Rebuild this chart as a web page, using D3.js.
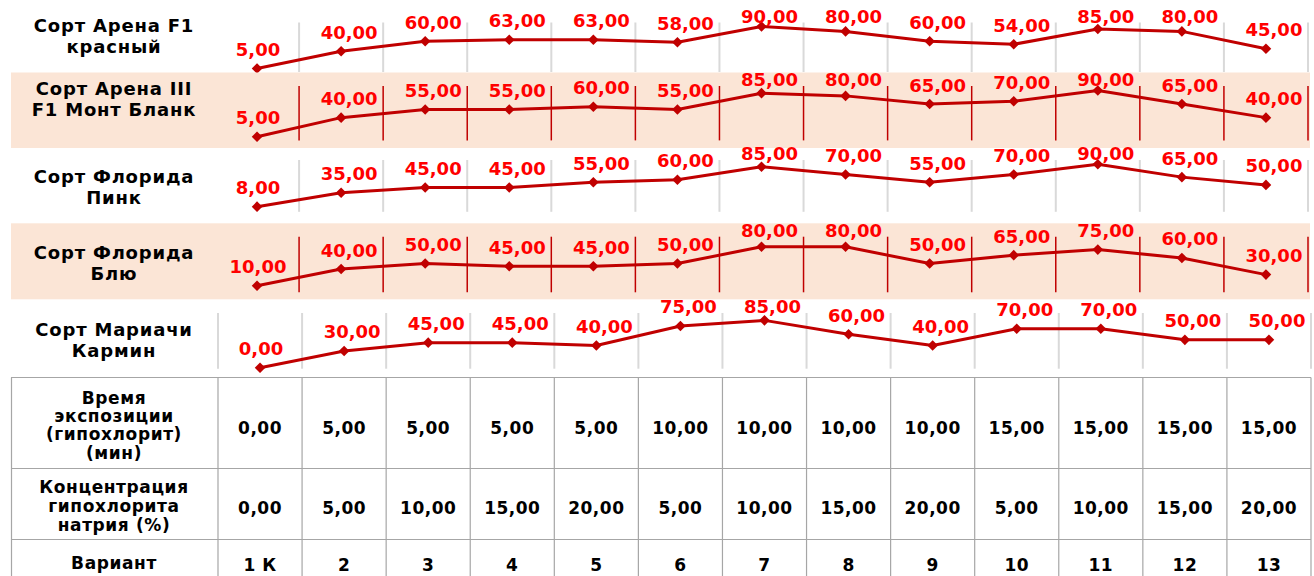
<!DOCTYPE html>
<html>
<head>
<meta charset="utf-8">
<script src="https://cdn.jsdelivr.net/npm/d3@7"></script>
<style>
  html, body { margin: 0; padding: 0; background: #ffffff; }
  svg { display: block; }
  text { font-family: "DejaVu Sans", Verdana, sans-serif; font-weight: bold; }
</style>
</head>
<body>
<svg id="chart" width="1314" height="576"></svg>
<script>
// ---------------- DATA ----------------
const variants = ["1 К", "2", "3", "4", "5", "6", "7", "8", "9", "10", "11", "12", "13"];
const exposureTime = [0, 5, 5, 5, 5, 10, 10, 10, 10, 15, 15, 15, 15];
const concentration = [0, 5, 10, 15, 20, 5, 10, 15, 20, 5, 10, 15, 20];

const seriesNames = [
  ["Сорт Арена F1", "красный"],
  ["Сорт Арена III", "F1 Монт Бланк"],
  ["Сорт Флорида", "Пинк"],
  ["Сорт Флорида", "Блю"],
  ["Сорт Мариачи", "Кармин"]
];
const arenaRed       = [5, 40, 60, 63, 63, 58, 90, 80, 60, 54, 85, 80, 45];
const arenaMontBlanc = [5, 40, 55, 55, 60, 55, 85, 80, 65, 70, 90, 65, 40];
const floridaPink    = [8, 35, 45, 45, 55, 60, 85, 70, 55, 70, 90, 65, 50];
const floridaBlue    = [10, 40, 50, 45, 45, 50, 80, 80, 50, 65, 75, 60, 30];
const mariachiCarmine= [0, 30, 45, 45, 40, 75, 85, 60, 40, 70, 70, 50, 50];
const seriesValues = [arenaRed, arenaMontBlanc, floridaPink, floridaBlue, mariachiCarmine];

const tableRowTitles = [
  ["Время", "экспозиции", "(гипохлорит)", "(мин)"],
  ["Концентрация", "гипохлорита", "натрия (%)"],
  ["Вариант"]
];

// ---------------- LAYOUT ----------------
const svg = d3.select("#chart");
const LINE = "#C00000", LABEL = "#FF0000", PEACH = "#FBE5D6";
const fmt = v => d3.format(".2f")(v).replace(".", ",");

const xTable = d3.scaleBand().domain(variants).range([218, 1311]);
const xShift = d3.scaleBand().domain(variants).range([215, 1308]);

const panels = [
  { y0: 71,    y100: 21.5,  bg: null,           grid: "#D9D9D9", gw: 2,   x: xShift, firstEdge: false, lab: [32, 53] },
  { y0: 139.4, y100: 85,    bg: [72.5, 148],    grid: LINE,      gw: 1.5, x: xShift, firstEdge: false, lab: [95, 116] },
  { y0: 210.8, y100: 159,   bg: null,           grid: "#D9D9D9", gw: 2,   x: xShift, firstEdge: false, lab: [183, 204] },
  { y0: 291.3, y100: 235.7, bg: [223.3, 299.3], grid: LINE,      gw: 1.5, x: xShift, firstEdge: false, lab: [259, 280] },
  { y0: 367.7, y100: 312,   bg: null,           grid: "#D9D9D9", gw: 2,   x: xTable, firstEdge: true,  lab: [336, 357] }
];

panels.forEach((p, i) => {
  const g = svg.append("g");
  const x = p.x;
  const y = d3.scaleLinear().domain([0, 100]).range([p.y0, p.y100]);
  const cx = v => x(v) + x.bandwidth() / 2;

  if (p.bg) {
    g.append("rect").attr("x", 11).attr("y", p.bg[0])
      .attr("width", 1310 - 11).attr("height", p.bg[1] - p.bg[0])
      .attr("fill", PEACH);
  }
  const edges = variants.map(v => x(v) + x.bandwidth());
  if (p.firstEdge) edges.unshift(x(variants[0]));
  g.selectAll("line.grid").data(edges).join("line")
    .attr("x1", d => d).attr("x2", d => d)
    .attr("y1", y(100) + 1).attr("y2", y(0) + 1)
    .attr("stroke", p.grid).attr("stroke-width", p.gw);

  g.selectAll("text.name").data(seriesNames[i]).join("text")
    .attr("x", 114).attr("y", (d, k) => p.lab[k])
    .attr("text-anchor", "middle").attr("font-size", 18)
    .attr("letter-spacing", 0.8).attr("fill", "#000")
    .text(d => d);

  const vals = seriesValues[i];
  const line = d3.line().x((d, k) => cx(variants[k])).y(d => y(d));
  g.append("path").datum(vals).attr("d", line)
    .attr("fill", "none").attr("stroke", LINE).attr("stroke-width", 3)
    .attr("stroke-linejoin", "round");

  g.selectAll("path.mk").data(vals).join("path")
    .attr("d", d3.symbol(d3.symbolSquare, 56)())
    .attr("transform", (d, k) => `translate(${cx(variants[k])},${y(d)}) rotate(45)`)
    .attr("fill", LINE);

  g.selectAll("text.lbl").data(vals).join("text")
    .attr("x", (d, k) => cx(variants[k]) + (k === 0 ? 1 : 8))
    .attr("y", d => Math.max(y(d) - 19, y(100) - 5))
    .attr("dy", "0.36em")
    .attr("text-anchor", "middle").attr("font-size", 18).attr("fill", LABEL)
    .text(d => fmt(d));
});

// ---------------- TABLE ----------------
const tg = svg.append("g");
const GRAY = "#A6A6A6";
[377.5, 468.5, 539.5].forEach(yy => {
  tg.append("line").attr("x1", 11).attr("x2", 1311).attr("y1", yy).attr("y2", yy)
    .attr("stroke", GRAY).attr("stroke-width", 1.2);
});
const vEdges = [11.5, xTable(variants[0])].concat(variants.map(v => xTable(v) + xTable.bandwidth()));
tg.selectAll("line.v").data(vEdges).join("line")
  .attr("x1", d => d).attr("x2", d => d).attr("y1", 377.5).attr("y2", 576)
  .attr("stroke", GRAY).attr("stroke-width", 1.2);

const rowCenters = [425, 506, 563];
const lineH = [18.3, 19.2, 0];
tableRowTitles.forEach((lines, r) => {
  const n = lines.length;
  tg.selectAll(null).data(lines).join("text")
    .attr("x", 114)
    .attr("y", (d, k) => rowCenters[r] + (k - (n - 1) / 2) * lineH[r])
    .attr("dy", "0.36em").attr("text-anchor", "middle")
    .attr("font-size", 17).attr("letter-spacing", 0.6)
    .attr("fill", "#000").text(d => d);
});
const tableRows = [exposureTime.map(fmt), concentration.map(fmt), variants];
const valCenters = [428, 508, 565];
tableRows.forEach((row, r) => {
  tg.selectAll(null).data(row).join("text")
    .attr("x", (d, k) => xTable(variants[k]) + xTable.bandwidth() / 2)
    .attr("y", valCenters[r]).attr("dy", "0.36em")
    .attr("text-anchor", "middle").attr("font-size", 17)
    .attr("letter-spacing", 0.5).attr("fill", "#000")
    .text(d => d);
});
</script>
</body>
</html>
